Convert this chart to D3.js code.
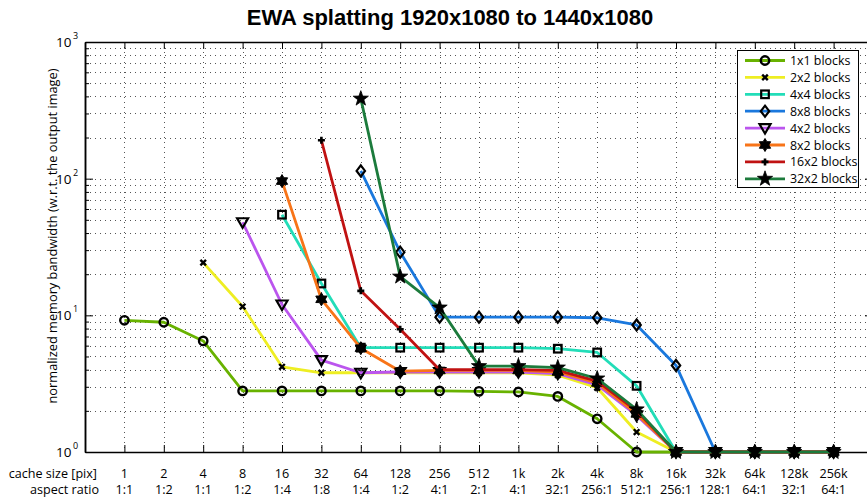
<!DOCTYPE html>
<html><head><meta charset="utf-8">
<script src="https://cdn.jsdelivr.net/npm/d3@7"></script>
<style>
html,body{margin:0;padding:0;background:#fff;}
text{font-family:"Open Sans",Lato,sans-serif;}
text.title{font-family:"Liberation Sans",Arial,sans-serif;font-weight:bold;}
</style></head>
<body>
<svg id="chart" width="867" height="498"></svg>
<script>
// ---- data ----
const categories = ["1","2","4","8","16","32","64","128","256","512","1k","2k","4k","8k","16k","32k","64k","128k","256k"];
const aspectRatios = ["1:1","1:2","1:1","1:2","1:4","1:8","1:4","1:2","4:1","2:1","4:1","32:1","256:1","512:1","256:1","128:1","64:1","32:1","64:1"];
const seriesNames = ["1x1 blocks","2x2 blocks","4x4 blocks","8x8 blocks","4x2 blocks","8x2 blocks","16x2 blocks","32x2 blocks"];
const b1x1  = [9.2, 8.9, 6.5, 2.8, 2.8, 2.8, 2.8, 2.8, 2.8, 2.78, 2.75, 2.55, 1.75, 1.0, 1, 1, 1, 1, 1];
const b2x2  = [null, null, 24.3, 11.6, 4.2, 3.8, 3.8, 3.8, 3.8, 3.8, 3.8, 3.65, 2.95, 1.4, 1, 1, 1, 1, 1];
const b4x4  = [null, null, null, null, 54.5, 17.1, 5.8, 5.8, 5.8, 5.8, 5.8, 5.7, 5.35, 3.05, 1, 1, 1, 1, 1];
const b8x8  = [null, null, null, null, null, null, 114, 29, 9.7, 9.7, 9.7, 9.7, 9.6, 8.5, 4.3, 1, 1, 1, 1];
const b4x2  = [null, null, null, 48, 12, 4.7, 3.8, 3.85, 3.85, 3.85, 3.85, 3.75, 3.1, 1.85, 1, 1, 1, 1, 1];
const b8x2  = [null, null, null, null, 96, 13.1, 5.75, 3.9, 3.95, 3.95, 3.95, 3.85, 3.2, 1.9, 1, 1, 1, 1, 1];
const b16x2 = [null, null, null, null, null, 191, 15.1, 7.9, 4.0, 4.0, 4.0, 3.95, 3.3, 2.0, 1, 1, 1, 1, 1];
const b32x2 = [null, null, null, null, null, null, 385, 19.2, 11.4, 4.25, 4.25, 4.15, 3.45, 2.05, 1, 1, 1, 1, 1];
const seriesValues = [b1x1, b2x2, b4x4, b8x8, b4x2, b8x2, b16x2, b32x2];
const majorTicks = [1, 10, 100, 1000];
const tickExponents = ["0", "1", "2", "3"];

// ---- styles ----
const colors = ["#68b200","#eeee22","#22ddb8","#1a78dd","#bb55ee","#f87418","#c01212","#1c7b3c"];
const markers = ["circle","x","square","diamond","triDown","hexagram","plus","star"];

const svg = d3.select("#chart");
const L = 85, R = 873, T = 42, B = 452;
const x = d3.scaleLinear().domain([-1, 19]).range([L, R]);
const y = d3.scaleLog().domain([1, 1000]).range([B, T]);

// grid
const minorVals = [];
for (let e = 0; e < 3; e++) for (let m = 1; m < 10; m++) minorVals.push(m * Math.pow(10, e));
minorVals.push(1000);
const grid = svg.append("g").attr("stroke", "#555").attr("stroke-width", 1).attr("stroke-dasharray", "1,4");
grid.selectAll("line.h").data(minorVals.filter(v => v > 1 && v < 1000)).join("line")
  .attr("x1", L).attr("x2", R).attr("y1", d => Math.round(y(d)) + 0.5).attr("y2", d => Math.round(y(d)) + 0.5);
grid.selectAll("line.v").data(categories.map((c, i) => i)).join("line")
  .attr("y1", T).attr("y2", B).attr("x1", d => Math.round(x(d)) + 0.5).attr("x2", d => Math.round(x(d)) + 0.5);

// axes
const gx = svg.append("g").attr("transform", `translate(0,${B})`)
  .call(d3.axisBottom(x).tickValues(d3.range(19)).tickSizeInner(-7).tickSizeOuter(0).tickFormat(""));
const gxt = svg.append("g").attr("transform", `translate(0,${T})`)
  .call(d3.axisTop(x).tickValues(d3.range(19)).tickSizeInner(-7).tickSizeOuter(0).tickFormat(""));
const gy = svg.append("g").attr("transform", `translate(${L},0)`)
  .call(d3.axisLeft(y).tickValues(majorTicks).tickSizeInner(-8).tickSizeOuter(0).tickFormat(""));
const gym = svg.append("g").attr("transform", `translate(${L},0)`)
  .call(d3.axisLeft(y).tickValues(minorVals.filter(v => !majorTicks.includes(v))).tickSizeInner(-4).tickSizeOuter(0).tickFormat(""));
const gyr = svg.append("g").attr("transform", `translate(${R},0)`)
  .call(d3.axisRight(y).tickValues(majorTicks).tickSizeInner(-8).tickSizeOuter(0).tickFormat(""));
[gx, gxt, gy, gym, gyr].forEach(g => {
  g.selectAll(".domain").attr("stroke", "#000").attr("stroke-width", 1.5);
  g.selectAll(".tick line").attr("stroke", "#000").attr("stroke-width", 1);
});

// y tick labels
majorTicks.forEach((v, i) => {
  const t = svg.append("text").attr("x", 56).attr("y", y(v) + 5).attr("font-size", 13.5).attr("fill", "#000");
  t.append("tspan").text("10");
  t.append("tspan").attr("dy", -8).attr("font-size", 9).attr("dx", 1.5).text(tickExponents[i]);
});

// x tick labels
svg.append("g").selectAll("text").data(categories).join("text")
  .attr("x", (d, i) => x(i)).attr("y", 478).attr("text-anchor", "middle").attr("font-size", 12.6).text(d => d);
svg.append("g").selectAll("text").data(aspectRatios).join("text")
  .attr("x", (d, i) => x(i)).attr("y", 494).attr("text-anchor", "middle").attr("font-size", 12.6).text(d => d);
svg.append("text").attr("x", 97).attr("y", 478).attr("text-anchor", "end").attr("font-size", 12.6).text("cache size [pix]");
svg.append("text").attr("x", 99).attr("y", 494).attr("text-anchor", "end").attr("font-size", 12.6).text("aspect ratio");

// y title
svg.append("text").attr("transform", "translate(57,236) rotate(-90)").attr("text-anchor", "middle")
  .attr("font-size", 12.8).text("normalized memory bandwidth (w.r.t. the output image)");

// title
svg.append("text").attr("class", "title").attr("x", 450).attr("y", 25).attr("text-anchor", "middle")
  .attr("font-size", 22)
  .text("EWA splatting 1920x1080 to 1440x1080");

// markers
function starPath(n, ro, ri, rot) {
  const pts = [];
  for (let k = 0; k < 2 * n; k++) {
    const r = k % 2 === 0 ? ro : ri;
    const a = rot + k * Math.PI / n;
    pts.push([r * Math.sin(a), -r * Math.cos(a)]);
  }
  return "M" + pts.map(p => p[0].toFixed(2) + "," + p[1].toFixed(2)).join("L") + "Z";
}
function drawMarker(g, type, cx, cy) {
  const m = g.append("g").attr("transform", `translate(${cx},${cy})`);
  switch (type) {
    case "circle":
      m.append("circle").attr("r", 4.2).attr("fill", "none").attr("stroke", "#000").attr("stroke-width", 2.4); break;
    case "x":
      m.append("path").attr("d", "M-2.8,-2.8L2.8,2.8M-2.8,2.8L2.8,-2.8").attr("stroke", "#000").attr("stroke-width", 2.4); break;
    case "square":
      m.append("rect").attr("x", -3.8).attr("y", -3.8).attr("width", 7.6).attr("height", 7.6).attr("fill", "none").attr("stroke", "#000").attr("stroke-width", 2.2); break;
    case "diamond":
      m.append("path").attr("d", "M0,-5.5L4.2,0L0,5.5L-4.2,0Z").attr("fill", "none").attr("stroke", "#000").attr("stroke-width", 2.2); break;
    case "triDown":
      m.append("path").attr("d", "M-5.5,-4L5.5,-4L0,5.5Z").attr("fill", "none").attr("stroke", "#000").attr("stroke-width", 2.2); break;
    case "hexagram":
      m.append("path").attr("d", starPath(6, 6.5, 3.8, 0)).attr("fill", "#000").attr("stroke", "#000").attr("stroke-width", 1); break;
    case "plus":
      m.append("path").attr("d", "M-3.5,0L3.5,0M0,-3.5L0,3.5").attr("stroke", "#000").attr("stroke-width", 2.6); break;
    case "star":
      m.append("path").attr("d", starPath(5, 8, 3.2, 0)).attr("fill", "#000").attr("stroke", "#000").attr("stroke-width", 0.8); break;
  }
}

// series
const line = d3.line().defined(d => d.v != null).x(d => x(d.i)).y(d => y(d.v));
seriesValues.forEach((vals, s) => {
  const pts = vals.map((v, i) => ({i, v}));
  const g = svg.append("g");
  g.append("path").datum(pts).attr("d", line).attr("fill", "none")
    .attr("stroke", colors[s]).attr("stroke-width", 2.8).attr("stroke-linejoin", "round");
  pts.filter(p => p.v != null).forEach(p => drawMarker(g, markers[s], x(p.i), y(p.v)));
});

// legend
const lg = svg.append("g");
lg.append("rect").attr("x", 737.5).attr("y", 50.5).attr("width", 121).attr("height", 137)
  .attr("fill", "#fff").attr("stroke", "#000").attr("stroke-width", 1);
seriesNames.forEach((name, s) => {
  const yy = 60.5 + s * 16.9;
  lg.append("line").attr("x1", 745).attr("x2", 785).attr("y1", yy).attr("y2", yy)
    .attr("stroke", colors[s]).attr("stroke-width", 2.8);
  drawMarker(lg, markers[s], 765, yy);
  lg.append("text").attr("x", 790).attr("y", yy + 4.5).attr("font-size", 12.4).text(name);
});
</script>
</body></html>
